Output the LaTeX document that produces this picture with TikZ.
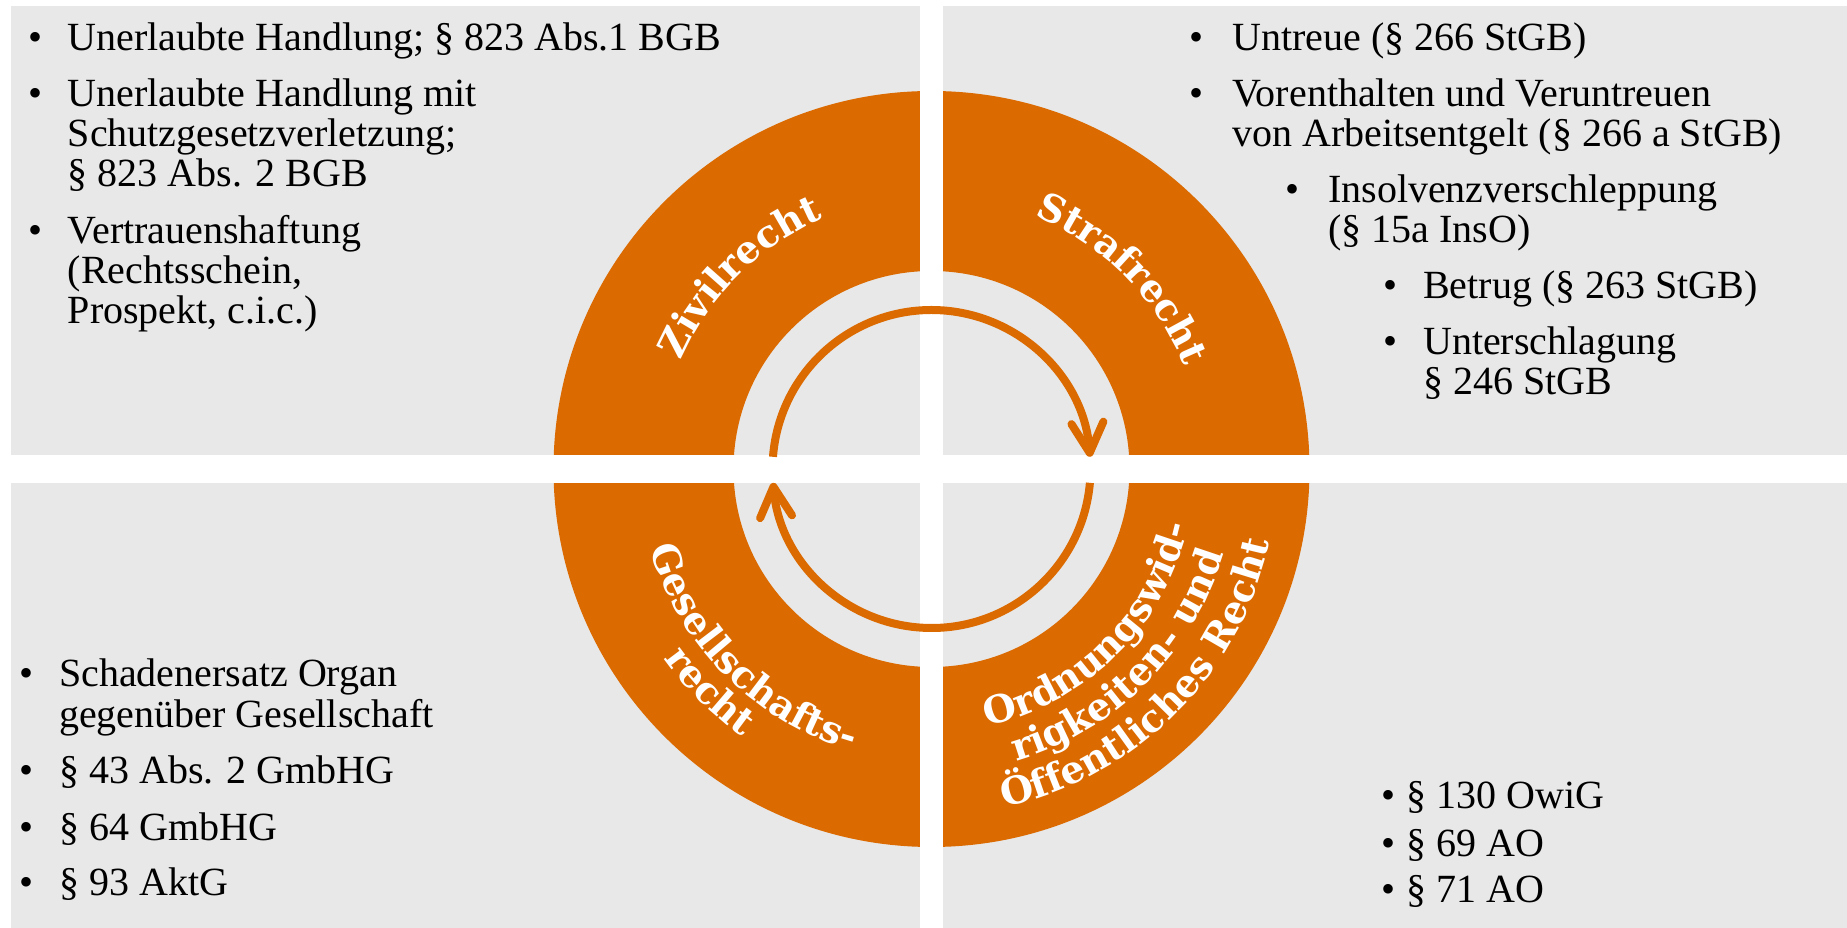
\documentclass[tikz,border=0pt]{standalone}
\usepackage{fontspec}
\setmainfont{Liberation Serif}
\newfontfamily\ringfont{DejaVu Serif}
\usetikzlibrary{arrows.meta,decorations.text}

\definecolor{ringorange}{RGB}{219,106,0}
\definecolor{panelgray}{RGB}{232,232,232}

\begin{document}
\begin{tikzpicture}[x=1pt, y=1pt,
	item/.style={anchor=base west, inner sep=0pt, font=\fontsize{40}{40}\selectfont},
	dot/.style={anchor=base, inner sep=0pt, font=\fontsize{40}{40}\selectfont},
	cyclearrow/.style={ringorange, line width=8pt, -{Straight Barb[length=30pt, width=32pt, round]}},
	ringtext/.style={decorate, decoration={text along path, text align=center, text color=white,
		text={|\ringfont\bfseries\fontsize{38}{38}\selectfont|#1}}}
]

\def\width{1847}
\def\height{928}
\def\ox{931.5}
\def\oy{459}
\def\rout{378}
\def\rin{198}
\def\rarr{159}
\coordinate (O) at (\ox,\oy);

\path [use as bounding box] (0,0) rectangle (\width,\height);

% PANELS
\fill [panelgray] (10.6,0) rectangle (\width,922);

% RING
\fill [ringorange, even odd rule] (O) circle [radius=\rout] (O) circle [radius=\rin];

% CROSS (splits panels and ring)
\fill [white] (920,0) rectangle (943,\height);
\fill [white] (0,445) rectangle (\width,473);

% CYCLE
\draw [cyclearrow] (O) ++(175.6:\rarr) arc [start angle=175.6, end angle=4.4, radius=\rarr];
\draw [cyclearrow] (O) ++(-5:\rarr) arc [start angle=-5, end angle=-175, radius=\rarr];

% RING LABELS
% top half: clockwise, letters face outwards
\path [ringtext=Zivilrecht] (O) ++(180:273) arc [start angle=180, end angle=90, radius=273];
\path [ringtext=Strafrecht] (O) ++(90:273) arc [start angle=90, end angle=0, radius=273];
% bottom half: counter clockwise, letters face inwards
\path [ringtext=Gesellschafts-] (O) ++(180:292) arc [start angle=180, end angle=270, radius=292];
\path [ringtext=recht] (O) ++(180:328) arc [start angle=180, end angle=270, radius=328];
\path [ringtext=Ordnungswid-] (O) ++(270:263) arc [start angle=270, end angle=360, radius=263];
\path [ringtext=rigkeiten- und] (O) ++(270:304) arc [start angle=270, end angle=360, radius=304];
\path [ringtext=Öffentliches Recht] (O) ++(270:346) arc [start angle=270, end angle=360, radius=346];

% Function: bullet item
% #1 : name
% #2 : x of bullet
% #3 : x of text
% #4 : y of first baseline
% #5 : text (lines split by \\)
\newcommand{\bulletitem}[5]{%
	\node [dot] (#1-dot) at (#2,#4) {\textbullet};
	\node [item] (#1) at (#3,#4) {\begin{tabular}[t]{@{}l@{}}#5\end{tabular}};
}

% ZIVILRECHT
\bulletitem{zr1}{35.3}{67.6}{877.3}{Unerlaubte Handlung; § 823 Abs.1 BGB}
\bulletitem{zr2}{35.3}{67.6}{821}{Unerlaubte Handlung mit\\Schutzgesetzverletzung;\\§ 823 Abs. 2 BGB}
\bulletitem{zr3}{35.3}{67.6}{684}{Vertrauenshaftung\\(Rechtsschein,\\Prospekt, c.i.c.)}

% STRAFRECHT
\bulletitem{sr1}{1196.5}{1232}{877.3}{Untreue (§ 266 StGB)}
\bulletitem{sr2}{1196.5}{1232}{821}{Vorenthalten und Veruntreuen\\von Arbeitsentgelt (§ 266 a StGB)}
\bulletitem{sr3}{1292}{1328}{725}{Insolvenzverschleppung\\(§ 15a InsO)}
\bulletitem{sr4}{1390.6}{1423}{629}{Betrug (§ 263 StGB)}
\bulletitem{sr5}{1390.6}{1423}{573}{Unterschlagung\\§ 246 StGB}

% GESELLSCHAFTSRECHT
\bulletitem{gr1}{26.5}{59}{241}{Schadenersatz Organ\\gegenüber Gesellschaft}
\bulletitem{gr2}{26.5}{59}{144}{§ 43 Abs. 2 GmbHG}
\bulletitem{gr3}{26.5}{59}{87}{§ 64 GmbHG}
\bulletitem{gr4}{26.5}{59}{32}{§ 93 AktG}

% ORDNUNGSWIDRIGKEITEN
\bulletitem{or1}{1388}{1406.5}{119}{§ 130 OwiG}
\bulletitem{or2}{1388}{1406.5}{71}{§ 69 AO}
\bulletitem{or3}{1388}{1406.5}{25}{§ 71 AO}

\end{tikzpicture}
\end{document}
